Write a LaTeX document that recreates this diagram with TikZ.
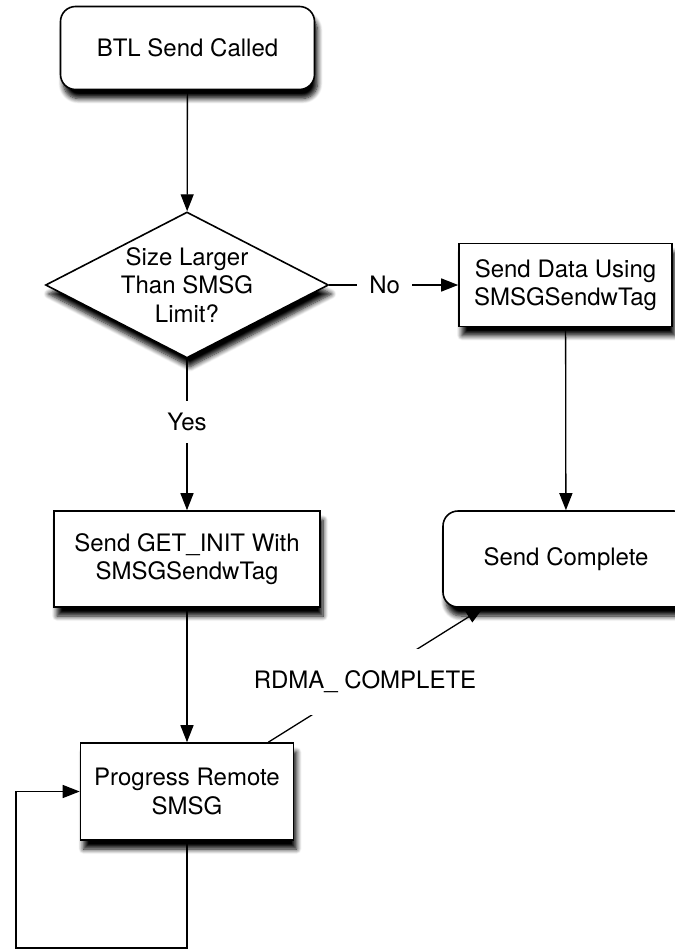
\documentclass[tikz,border=0pt]{standalone}
\usepackage{fontspec}
\setmainfont{TeX Gyre Heros}
\usetikzlibrary{arrows.meta,shapes.geometric,shadows.blur}

\newcommand{\flowfont}{\fontsize{24}{28.5}\selectfont}

\tikzset{
  boxshadow/.style={blur shadow={shadow xshift=3pt,shadow yshift=-9pt,shadow blur radius=5pt,shadow blur steps=8,shadow opacity=100}},
  process/.style={draw,line width=1.6pt,fill=white,align=center,font=\flowfont,boxshadow},
  terminal/.style={process,rounded corners=15pt},
  decision/.style={diamond,draw,line width=1.6pt,fill=white,align=center,font=\flowfont,boxshadow,
    shape aspect=1.94,inner sep=-6pt},
  flow/.style={line width=1.3pt,-{Triangle[length=17pt,width=13pt]}},
  edgelabel/.style={fill=white,font=\flowfont,inner sep=12pt}
}

\begin{document}
\begin{tikzpicture}[x=1pt,y=1pt,yscale=-1,xscale=1]
\clip (0,0) rectangle (675,951);

% Boxes
\node[terminal,minimum width=254pt,minimum height=83pt] (called) at (187.5,48) {BTL Send Called};
\node[decision,minimum width=283pt,minimum height=146pt] (limit) at (187,285) {Size Larger\\Than SMSG\\Limit?};
\node[process,minimum width=213pt,minimum height=83pt] (smsgsend) at (565.5,285) {Send Data Using\\SMSGSendwTag};
\node[process,minimum width=266pt,minimum height=96pt] (getinit) at (187,559) {Send GET\_INIT With\\SMSGSendwTag};
\node[terminal,minimum width=246pt,minimum height=96pt] (complete) at (566,559) {Send Complete};
\node[process,minimum width=213pt,minimum height=97pt] (progress) at (187,791.5) {Progress Remote\\SMSG};
\coordinate (loopcorner) at (16,948);

% Connectors
\draw[flow] (called) -- (limit);
\draw[flow] (limit) -- node[edgelabel,pos=0.43] {No} (smsgsend);
\draw[flow] (limit) -- node[edgelabel,pos=0.42] {Yes} (getinit);
\draw[flow] (smsgsend) -- (complete);
\draw[flow] (getinit) -- (progress);
\draw[flow] ([xshift=-26pt]progress.north east) -- node[edgelabel,pos=0.45,inner xsep=4pt,inner ysep=22pt] {RDMA\_ COMPLETE} ([xshift=41pt]complete.south west);
\draw[flow] (progress.south) |- (loopcorner) |- (progress.west);

\end{tikzpicture}
\end{document}
